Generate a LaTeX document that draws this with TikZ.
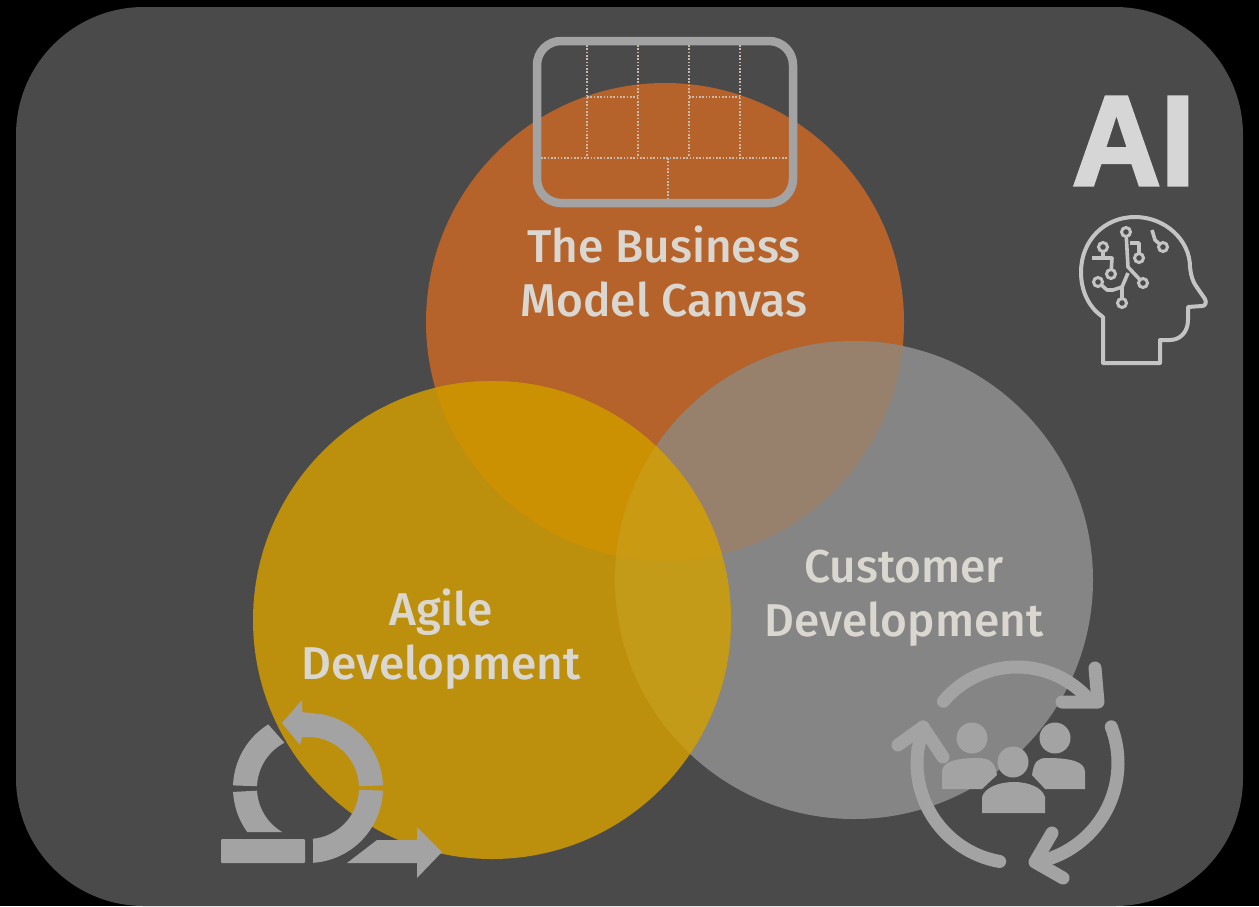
\documentclass[tikz,border=0pt]{standalone}
\usepackage{fontspec}
\setmainfont{Fira Sans Medium}
\newfontfamily\aifont[FakeBold=2.5]{Liberation Sans Bold}
\definecolor{panel}{HTML}{4A4A4A}
\definecolor{orangec}{HTML}{B5622B}
\definecolor{agilec}{HTML}{BC8F0D}
\definecolor{greyc}{HTML}{858585}
\definecolor{oa}{HTML}{CC9103}
\definecolor{og}{HTML}{97806C}
\definecolor{ag}{HTML}{C49B18}
\definecolor{oag}{HTML}{C99A12}
\definecolor{icon}{HTML}{A3A3A3}
\definecolor{iconline}{HTML}{C4C4C4}
\definecolor{labeltxt}{HTML}{DAD7D0}
\definecolor{dots}{HTML}{C9BBAA}
\tikzset{
  big label/.style={text=labeltxt,font=\fontsize{46}{54}\selectfont,align=center,inner sep=0pt},
  dotline/.style={draw=dots,line width=2.4pt,dash pattern=on 1.6pt off 1.7pt},
  circuit/.style={draw=iconline,line width=3.6pt,line join=round,fill=none},
  pin/.style={draw=iconline,line width=3pt,fill=panel},
  ring/.style={draw=icon,line width=13pt,line cap=round,line join=round}
}
\begin{document}
\begin{tikzpicture}[x=1pt,y=-1pt]
\useasboundingbox (0,0) rectangle (1259,906);
\fill[black] (0,0) rectangle (1259,906);
\fill[panel,rounded corners=128pt] (16,7) rectangle (1243,906);

% circles
\coordinate (co) at (665,322);
\coordinate (ca) at (492,620);
\coordinate (cg) at (854,580);
\fill[orangec] (co) circle[radius=239];
\fill[greyc] (cg) circle[radius=239];
\fill[agilec] (ca) circle[radius=239];
\begin{scope}
  \clip (co) circle[radius=239];
  \fill[og] (cg) circle[radius=239];
  \fill[oa] (ca) circle[radius=239];
\end{scope}
\begin{scope}
  \clip (cg) circle[radius=239];
  \fill[ag] (ca) circle[radius=239];
  \clip (co) circle[radius=239];
  \fill[oag] (ca) circle[radius=239];
\end{scope}

% canvas icon
\foreach \x in {587,638,689,740} \draw[dotline] (\x,45) -- (\x,157);
\draw[dotline] (541,158) -- (789,158);
\draw[dotline] (587,97) -- (638,97);
\draw[dotline] (689,97) -- (740,97);
\draw[dotline] (668,158) -- (668,198);
\draw[draw=icon,line width=8.5pt,rounded corners=24pt] (537,41) rectangle (793,203);

% labels
\node[big label] (bmc) at (664,272) {The Business\\Model Canvas};
\node[big label] (cust) at (904,598) {Customer\\Development};
\node[big label] (agile) at (441,639) {Agile\\Development};
\node[text=iconline!70!white,font=\aifont\fontsize{128}{128}\selectfont,inner sep=0pt,xscale=0.96] (ai) at (1133.5,141) {AI};

% head icon
\draw[draw=iconline,line width=4pt,line join=round]
  (1103,363) -- (1103,317)
  .. controls (1088,307) and (1081,290) .. (1081,272)
  .. controls (1081,241) and (1104,217) .. (1135,217)
  .. controls (1165,217) and (1190,240) .. (1190,267)
  .. controls (1191,276) and (1193,282) .. (1196,286)
  -- (1205,299)
  .. controls (1207,303) and (1205,306) .. (1202,306)
  -- (1188,307) -- (1188,320)
  .. controls (1188,332) and (1180,340) .. (1170,340)
  -- (1160,340) -- (1160,363) -- cycle;
\draw[circuit] (1126,232) -- (1128,267) -- (1143,283);
\draw[circuit] (1130,243) -- (1139,243) -- (1139,258);
\draw[circuit] (1128,273) -- (1122,287) -- (1122,303);
\draw[circuit] (1122,287) -- (1113,290) -- (1107,290) -- (1098,282);
\draw[circuit] (1092,258) -- (1112,258) -- (1111,274);
\draw[circuit] (1103,247) -- (1103,258);
\draw[circuit] (1152,230) -- (1155,240) -- (1163,247);
\foreach \p in {(1126,232),(1139,258),(1103,247),(1111,274),(1098,282),(1143,283),(1122,303),(1163,247)}
  \draw[pin] \p circle[radius=4.5];

% scrum icon
\coordinate (sc) at (308,788);
\fill[icon] plot[domain=2:80,samples=40,variable=\t] ({308+75*cos(\t)},{788-75*sin(\t)})
  -- (302,712) -- (302,700) -- (282,723) -- (300,745) -- (302,737)
  -- plot[domain=97:2,samples=40,variable=\t] ({308+51*cos(\t)},{788-51*sin(\t)}) -- cycle;
\fill[icon] plot[domain=178:122,samples=30,variable=\t] ({308+75*cos(\t)},{788-75*sin(\t)})
  -- plot[domain=117.5:178,samples=30,variable=\t] ({308+51*cos(\t)},{788-51*sin(\t)}) -- cycle;
\fill[icon] plot[domain=183:216,samples=30,variable=\t] ({308+75*cos(\t)},{788-75*sin(\t)})
  -- plot[domain=240:183,samples=30,variable=\t] ({308+51*cos(\t)},{788-51*sin(\t)}) -- cycle;
\fill[icon] plot[domain=-2:-86,samples=30,variable=\t] ({308+75*cos(\t)},{788-75*sin(\t)})
  -- plot[domain=-84.4:-2,samples=30,variable=\t] ({308+51*cos(\t)},{788-51*sin(\t)}) -- cycle;
\fill[icon,rounded corners=1pt] (221,839) rectangle (305,863);
\fill[icon] (347,863) -- (377,840) -- (417,840) -- (417,827) -- (442,852) -- (417,878) -- (417,863) -- cycle;

% customer development icon
\draw[ring] plot[domain=140:40,samples=40,variable=\t] ({1017+96*cos(\t)},{763-96*sin(\t)});
\draw[ring] (1095,668) -- (1098,702) -- (1062,702);
\draw[ring] plot[domain=21:-72,samples=40,variable=\t] ({1017+101*cos(\t)},{763-101*sin(\t)});
\draw[ring] (1052,833) -- (1035,862) -- (1063,878);
\draw[ring] plot[domain=-100:-188,samples=30,variable=\t] ({1017+100*cos(\t)},{763-100*sin(\t)}) -- (923,727);
\draw[ring] (898,745) -- (923,727) -- (943,757);
\fill[icon] (972,738) circle[radius=15.5];
\fill[icon] (1055,738) circle[radius=15.5];
\fill[icon] (1013,762) circle[radius=15.5];
\fill[icon] (942,789) -- (942,772) .. controls (942,762) and (955,758) .. (977,758)
  .. controls (990,758) and (995,762) .. (997,775) -- (982,789) -- cycle;
\fill[icon] (1085,789) -- (1085,772) .. controls (1085,762) and (1072,758) .. (1047,758)
  .. controls (1037,758) and (1034,762) .. (1032,775) -- (1045,789) -- cycle;
\fill[icon] (982,813) -- (982,797) .. controls (985,787) and (1000,782) .. (1014,782)
  .. controls (1028,782) and (1042,787) .. (1045,797) -- (1045,813) -- cycle;
\end{tikzpicture}
\end{document}
